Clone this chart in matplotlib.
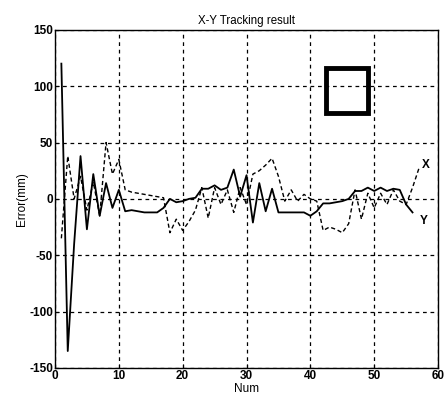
import matplotlib
matplotlib.use("Agg")
import matplotlib.pyplot as plt
from matplotlib.patches import Rectangle

# Данные
num_y = list(range(1, 57))
err_y = [120, -135, -40, 38, -27, 22, -15, 14, -8, 8,
         -11, -10, -11, -12, -12, -12, -8, 0, -3, -2,
         0, 1, 9, 9, 12, 8, 10, 26, 2, 21,
         -21, 14, -11, 9, -12, -12, -12, -12, -12, -15,
         -11, -4, -4, -3, -2, 0, 7, 7, 10, 7,
         10, 7, 9, 8, -5, -12]

num_x = list(range(1, 58))
err_x = [-35, 38, 0, 20, -10, 15, -15, 50, 22, 35,
         8, 6, 5, 4, 3, 2, 1, -30, -18, -28,
         -20, -10, 10, -17, 10, -5, 8, -12, 10, -5,
         22, 25, 30, 36, 20, -2, 8, -2, 4, 0,
         -2, -28, -25, -27, -30, -22, 8, -18, 5, -8,
         5, -5, 8, -2, -5, 10, 27]

xticks = [0, 10, 20, 30, 40, 50, 60]
yticks = [-150, -100, -50, 0, 50, 100, 150]

# Квадрат в правом верхнем углу (в координатах данных)
box_x0, box_y0, box_w, box_h = 42.4, 76, 6.6, 40

plt.rcParams["font.family"] = ["Liberation Sans", "DejaVu Sans"]
plt.rcParams["axes.unicode_minus"] = False

fig = plt.figure(figsize=(4.47, 4.03), dpi=100)
ax = fig.add_axes([0.123, 0.087, 0.857, 0.839])

ax.plot(num_y, err_y, color="black", linewidth=1.3)
ax.plot(num_x, err_x, color="black", linewidth=1.0, dashes=(3, 2))

ax.add_patch(Rectangle((box_x0, box_y0), box_w, box_h, fill=False,
                       edgecolor="black", linewidth=3.5))

ax.text(57.4, 30, "X", fontsize=8.5, fontweight="bold", ha="left", va="center")
ax.text(57.2, -20, "Y", fontsize=8.5, fontweight="bold", ha="left", va="center")

ax.set_xlim(0, 60)
ax.set_ylim(-150, 150)
ax.set_xticks(xticks)
ax.set_yticks(yticks)
ax.tick_params(direction="in", labelsize=8.5, length=3, width=0.8, pad=1.5)
for lab in ax.get_xticklabels() + ax.get_yticklabels():
    lab.set_fontweight("bold")

ax.grid(True, color="black", linestyle=(0, (3, 3)), linewidth=0.9)
for s in ax.spines.values():
    s.set_linewidth(1.0)

ax.set_title("X-Y Tracking result", fontsize=8.3, pad=4)
ax.set_xlabel("Num", fontsize=8.5, labelpad=1)
ax.set_ylabel("Error(mm)", fontsize=8.5, labelpad=1)

fig.savefig("out.png", dpi=100)
